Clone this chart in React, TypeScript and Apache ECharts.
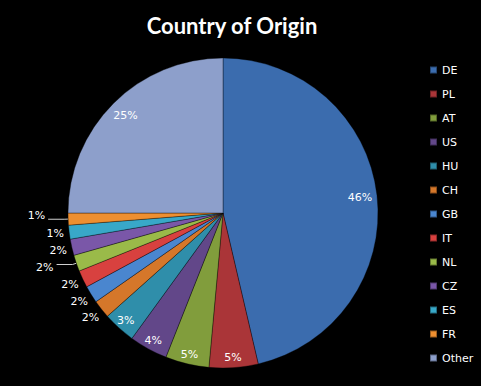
import React, { useEffect, useRef } from "react";
import * as echarts from "echarts";

const titleText = "Country of Origin";
const countries = ["DE", "PL", "AT", "US", "HU", "CH", "GB", "IT", "NL", "CZ", "ES", "FR", "Other"];
const shares = [46.35, 5.1, 4.55, 4.0, 3.4, 1.9, 1.8, 1.8, 1.7, 1.7, 1.45, 1.25, 25.0];
const colors = [
  "#3b6cae", "#aa3538", "#819d3c", "#624789", "#2f8eaa", "#d5772a",
  "#4a86cf", "#d8413f", "#9aba49", "#7a57a8", "#38a8c8", "#ee8f30", "#8d9fcb",
];
// label groups
const deepLabelled = ["DE", "Other"];
const innerLabelled = ["PL", "AT", "US", "HU"];
const outerLabelled = ["CH", "GB", "IT", "CZ", "ES"];
const leaderLabelled = ["NL", "FR"];

const fmt = (p: any) => Math.round(p.percent) + "%";
const labelFont = { color: "#ffffff", fontFamily: "DejaVu Sans", fontSize: 11 };

export default function App() {
  const ref = useRef<HTMLDivElement>(null);
  useEffect(() => {
    if (!ref.current) return;
    const chart = echarts.init(ref.current, null, { renderer: "svg" });
    const center = [223, 213];

    const overlay = (names: string[], radius: any) => ({
      type: "pie",
      center,
      radius,
      startAngle: 90,
      silent: true,
      avoidLabelOverlap: false,
      labelLine: { show: false },
      itemStyle: { color: "rgba(0,0,0,0)", borderWidth: 0 },
      data: countries.map((n, i) => ({
        name: n,
        value: shares[i],
        label: {
          show: names.includes(n),
          position: "inside",
          formatter: fmt,
          ...labelFont,
        },
      })),
    });

    chart.setOption({
      animation: false,
      backgroundColor: "#000000",
      title: {
        text: titleText,
        left: 227,
        top: 9,
        textAlign: "center",
        textStyle: { color: "#ffffff", fontFamily: "Lato", fontWeight: "bold", fontSize: 22 },
      },
      legend: {
        orient: "vertical",
        left: 424,
        top: 59,
        itemWidth: 7,
        itemHeight: 7,
        itemGap: 12,
        icon: "rect",
        data: countries,
        textStyle: { color: "#ffffff", fontFamily: "DejaVu Sans", fontSize: 11, lineHeight: 12 },
      },
      series: [
        {
          type: "pie",
          center,
          radius: 155,
          startAngle: 90,
          avoidLabelOverlap: false,
          itemStyle: { borderColor: "rgba(0,0,0,0.35)", borderWidth: 1 },
          labelLayout: (p: any) => {
            const n = countries[p.dataIndex];
            if (n === "FR") return { dy: -4 };
            if (n === "NL") return { dy: 3 };
            return {};
          },
          data: countries.map((n, i) => ({
            name: n,
            value: shares[i],
            itemStyle: { color: colors[i] },
            label: {
              show: leaderLabelled.includes(n),
              position: "outside",
              formatter: fmt,
              distanceToLabelLine: 3,
              ...labelFont,
            },
            labelLine: {
              show: leaderLabelled.includes(n),
              length: 4,
              length2: 16,
              lineStyle: { color: "#d0d0d0", width: 1 },
            },
          })),
        },
        overlay(deepLabelled, [110, 160]),
        overlay(innerLabelled, [124, 160]),
        overlay(outerLabelled, [151, 181]),
      ],
    });
    return () => chart.dispose();
  }, []);
  return (
    <div
      ref={ref}
      style={{ position: "fixed", left: 0, top: 0, width: 481, height: 386, background: "#000" }}
    />
  );
}
